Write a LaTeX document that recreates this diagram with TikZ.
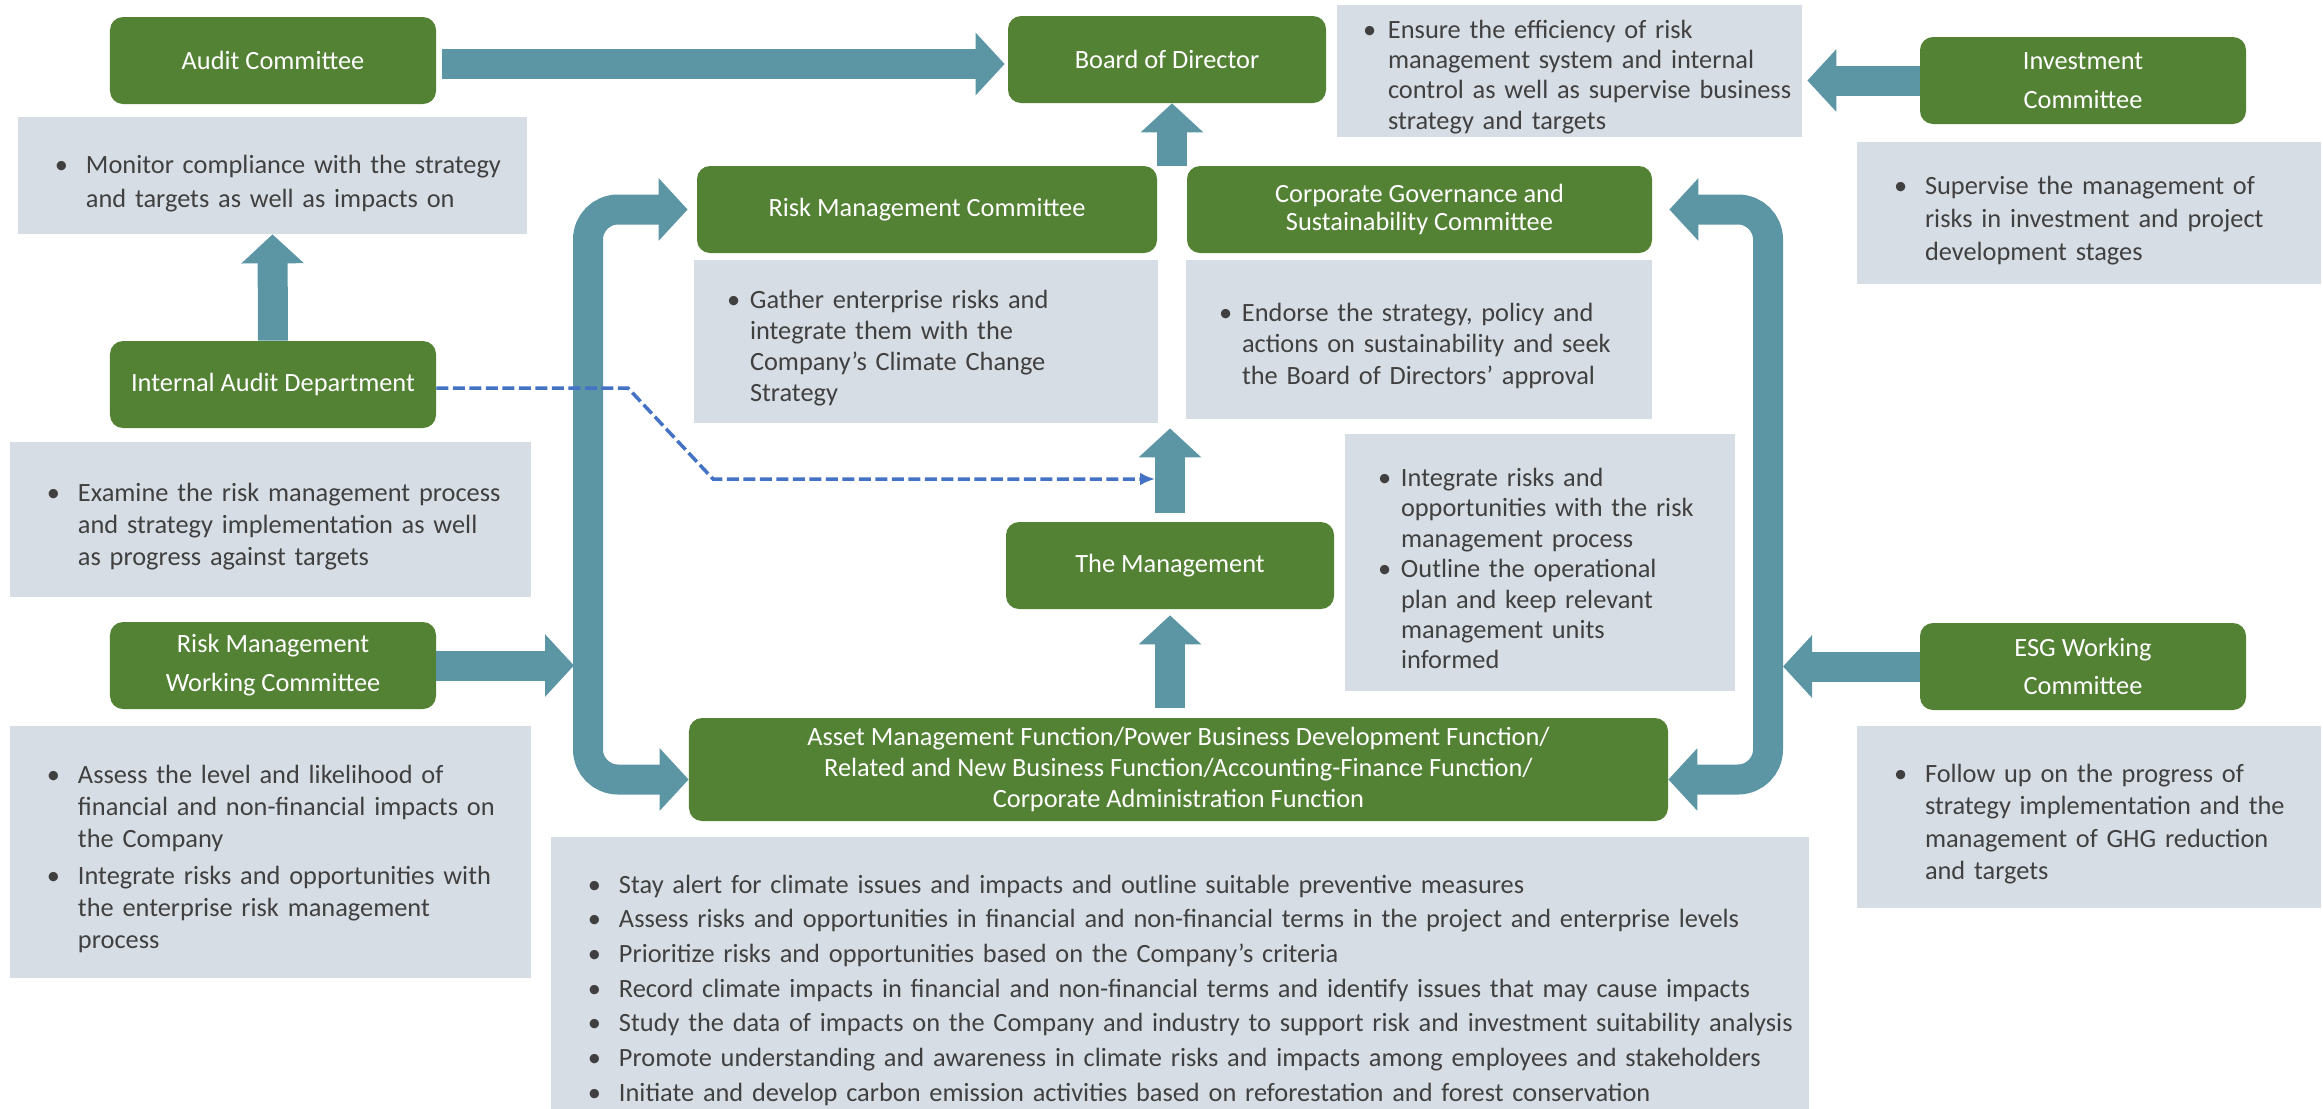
\documentclass[tikz,border=0pt]{standalone}
\usepackage{fontspec}
\setmainfont{Carlito}
\usepackage{tikz}
\usetikzlibrary{arrows.meta,calc}
\definecolor{rkgreen}{RGB}{84,130,53}
\definecolor{rknote}{RGB}{214,221,229}
\definecolor{rkteal}{RGB}{92,150,165}
\definecolor{rkink}{RGB}{64,64,64}
\definecolor{rkdash}{RGB}{68,114,196}
\newlength\bulpre
\newlength\bulgap
\newcommand\bitem[1]{\par\noindent\hangindent=\dimexpr\bulpre+\bulgap\relax\hangafter=1
  \hspace*{\bulpre}\makebox[\bulgap][l]{\textbullet}#1\par}
\tikzset{
  cbox/.style={
    fill=rkgreen, text=white, rounded corners=2.6mm,
    align=center, inner sep=0pt, font=\fontsize{15}{18}\selectfont
  },
  note/.style n args={3}{
    fill=rknote, text=rkink, inner sep=0pt, align=left,
    font=\fontsize{15}{#3}\selectfont,
    execute at begin node={\setlength\bulpre{#1}\setlength\bulgap{#2}}
  },
  wide/.style={note={7.4mm}{6.2mm}{#1}},
  slim/.style={note={6.6mm}{4.6mm}{#1}},
  fat/.style={draw=rkteal, line width=6mm, >={Triangle[length=5.8mm,width=12.2mm]}, ->},
  dlink/.style={
    draw=rkdash, line width=0.7mm, dash pattern=on 2.4mm off 0.9mm,
    -{Latex[length=3mm,width=2.6mm]}
  }
}

\begin{document}
\begin{tikzpicture}[x=0.2mm, y=-0.2mm]
  \useasboundingbox (0,0) rectangle (2323,1108);
  \clip (0,0) rectangle (2323,1108);

  \node[cbox, minimum width=65.2mm, minimum height=17.4mm] (audit) at (273,60.5) {Audit Committee};
  \node[cbox, minimum width=63.6mm, minimum height=17.4mm] (board) at (1167,59.5) {Board of Director};
  \node[cbox, minimum width=65.2mm, minimum height=17.4mm, font=\fontsize{15}{22.3}\selectfont] (invest) at (2083,80.5) {Investment\\Committee};
  \node[cbox, minimum width=92mm, minimum height=17.4mm] (rmc) at (927,209.5) {Risk Management Committee};
  \node[cbox, minimum width=93mm, minimum height=17.4mm, font=\fontsize{15}{15.8}\selectfont] (cgs) at (1419.5,209.5) {Corporate Governance and\\Sustainability Committee};
  \node[cbox, minimum width=65.2mm, minimum height=17.4mm] (iad) at (273,384.5) {Internal Audit Department};
  \node[cbox, minimum width=65.6mm, minimum height=17.4mm] (mgmt) at (1170,565.5) {The Management};
  \node[cbox, minimum width=65.2mm, minimum height=17.4mm, font=\fontsize{15}{22.3}\selectfont] (rmwc) at (273,665.5) {Risk Management\\Working Committee};
  \node[cbox, minimum width=65.2mm, minimum height=17.4mm, font=\fontsize{15}{22}\selectfont] (esg) at (2083,666.5) {ESG Working\\Committee};
  \node[cbox, minimum width=195.8mm, minimum height=20.6mm, font=\fontsize{15}{17.4}\selectfont] (asset) at (1178.5,769.5)
    {Asset Management Function/Power Business Development Function/\\Related and New Business Function/Accounting-Finance Function/\\Corporate Administration Function};

  \node[note={5.2mm}{5mm}{17.2}, text width=93mm, minimum height=26.4mm] (ensure) at (1569.5,71) {%
    \bitem{Ensure the efficiency of risk\newline management system and internal\newline control as well as supervise business\newline strategy and targets}};
  \node[wide=19.4, text width=101.8mm, minimum height=23.4mm] (monitor) at (272.5,175.5) {%
    \bitem{Monitor compliance with the strategy\newline and targets as well as impacts on}};
  \node[wide=18.8, text width=92.8mm, minimum height=28.4mm] (supervise) at (2089,213) {%
    \bitem{Supervise the management of\newline risks in investment and project\newline development stages}};
  \node[slim=17.7, text width=92.8mm, minimum height=32.6mm] (gather) at (926,341.5) {%
    \bitem{Gather enterprise risks and\newline integrate them with the\newline Company’s Climate Change\newline Strategy}};
  \node[slim=17.7, text width=93.2mm, minimum height=31.8mm] (endorse) at (1419,339.5) {%
    \bitem{Endorse the strategy, policy and\newline actions on sustainability and seek\newline the Board of Directors’ approval}};
  \node[wide=18.2, text width=104.2mm, minimum height=31mm] (examine) at (270.5,519.5) {%
    \bitem{Examine the risk management process\newline and strategy implementation as well\newline as progress against targets}};
  \node[slim=17.3, text width=78mm, minimum height=51.4mm] (integrate) at (1540,562.5) {%
    \bitem{Integrate risks and\newline opportunities with the risk\newline management process}
    \bitem{Outline the operational\newline plan and keep relevant\newline management units\newline informed}};
  \node[wide=18.2, text width=104.2mm, minimum height=50.4mm] (assess) at (270.5,852) {%
    \bitem{Assess the level and likelihood of\newline financial and non-financial impacts on\newline the Company}
    \vspace{3pt}
    \bitem{Integrate risks and opportunities with\newline the enterprise risk management\newline process}};
  \node[wide=19.7, text width=251.6mm, minimum height=58mm] (duties) at (1180,982) {%
    \bitem{Stay alert for climate issues and impacts and outline suitable preventive measures}
    \bitem{Assess risks and opportunities in financial and non-financial terms in the project and enterprise levels}
    \bitem{Prioritize risks and opportunities based on the Company’s criteria}
    \bitem{Record climate impacts in financial and non-financial terms and identify issues that may cause impacts}
    \bitem{Study the data of impacts on the Company and industry to support risk and investment suitability analysis}
    \bitem{Promote understanding and awareness in climate risks and impacts among employees and stakeholders}
    \bitem{Initiate and develop carbon emission activities based on reforestation and forest conservation}};
  \node[wide=18.5, text width=92.8mm, minimum height=36.4mm] (follow) at (2089,817) {%
    \bitem{Follow up on the progress of\newline strategy implementation and the\newline management of GHG reduction\newline and targets}};

  \coordinate (cgap) at ($(rmc.north east)!.5!(cgs.north west)$);
  \coordinate (lbus) at (588,500);
  \coordinate (rbus) at (1768,500);
  \coordinate (lin) at (574,500);
  \coordinate (rin) at (1783,500);
  \coordinate (dk1) at (628,388);
  \coordinate (dk2) at (713,479);
  \coordinate (dend) at (1155,479);

  \draw[fat, shorten <=1.2mm, shorten >=0.6mm] ([yshift=-0.7mm]audit.east) -- ([yshift=-0.9mm]board.west);
  \draw[fat, shorten >=1mm] (invest.west) -- (invest.west -| ensure.east);
  \draw[fat] (iad.north) -- (monitor.south);
  \draw[fat] (cgap) -- (cgap |- board.south);
  \draw[fat, shorten <=1.8mm, shorten >=1mm] (mgmt.north) -- (mgmt.north |- gather.south);
  \draw[fat, shorten <=2mm, shorten >=1.2mm] (mgmt.south |- asset.north) -- (mgmt.south);
  \draw[fat, <->, rounded corners=6mm, shorten <=1.8mm] (rmc.west) -| (lbus) |- ([yshift=-2mm]asset.west);
  \draw[fat, <->, rounded corners=6mm, shorten <=3.4mm] (cgs.east) -| (rbus) |- ([yshift=-2mm]asset.east);
  \draw[fat] (rmwc.east) -- (rmwc.east -| lin);
  \draw[fat] (esg.west) -- (esg.west -| rin);
  \draw[dlink] ([yshift=-0.7mm]iad.east) -- (dk1) -- (dk2) -- (dend);
\end{tikzpicture}
\end{document}
